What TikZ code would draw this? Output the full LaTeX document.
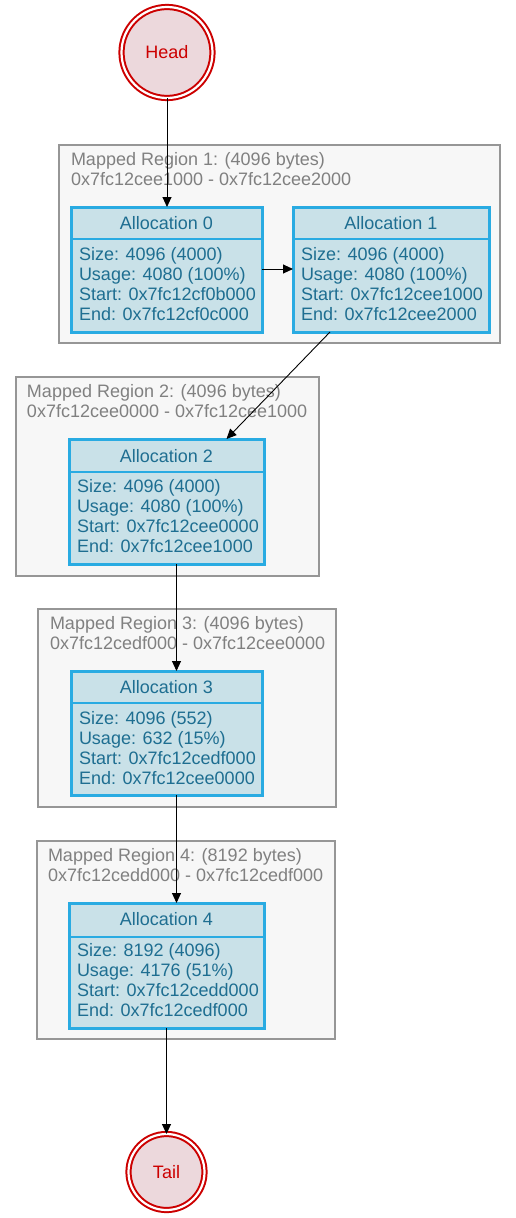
\documentclass[tikz,border=0pt]{standalone}
\usepackage{fontspec}
\setmainfont{Liberation Sans}
\usetikzlibrary{arrows.meta,calc}
\definecolor{headfill}{RGB}{236,216,220}
\definecolor{headred}{RGB}{204,0,0}
\definecolor{allocfill}{RGB}{201,225,232}
\definecolor{allocborder}{RGB}{41,171,226}
\definecolor{alloctext}{RGB}{30,110,145}
\definecolor{regionfill}{RGB}{247,247,247}
\definecolor{regionborder}{RGB}{150,150,150}
\definecolor{regiontext}{RGB}{128,128,128}
\tikzset{
  every node/.style={font=\fontsize{18}{20}\selectfont, inner sep=0pt, outer sep=0pt},
  region/.style={draw=regionborder, fill=regionfill, line width=1.2pt, rectangle},
  regionlabel/.style={text=regiontext, align=left, anchor=base west},
  allocbox/.style={draw=allocborder, fill=allocfill, line width=3pt, rectangle},
  allochead/.style={text=alloctext, anchor=base},
  allocbody/.style={text=alloctext, align=left, anchor=base west},
  divider/.style={draw=allocborder, line width=1.2pt},
  endpt/.style={circle, draw=headred, fill=headfill, line width=2pt, text=headred,
     double=white, double distance=2.2pt},
  link/.style={draw=black, line width=0.9pt, -{Triangle[length=10pt,width=9pt]}},
}
\begin{document}
\begin{tikzpicture}[x=1pt,y=-1pt]
\useasboundingbox (0,0) rectangle (516,1218);

% regions
\node[region, minimum width=441pt, minimum height=198pt, anchor=north west] (r1) at (59,145) {};
\node[regionlabel] (r1t) at ($(r1.north west)+(12,40.5)$) {Mapped Region 1: (4096 bytes)\\0x7fc12cee1000 - 0x7fc12cee2000};
\node[region, minimum width=303pt, minimum height=199pt, anchor=north west] (r2) at (16,377) {};
\node[regionlabel] (r2t) at ($(r2.north west)+(11,40.5)$) {Mapped Region 2: (4096 bytes)\\0x7fc12cee0000 - 0x7fc12cee1000};
\node[region, minimum width=298pt, minimum height=198pt, anchor=north west] (r3) at (38,609) {};
\node[regionlabel] (r3t) at ($(r3.north west)+(12,40.5)$) {Mapped Region 3: (4096 bytes)\\0x7fc12cedf000 - 0x7fc12cee0000};
\node[region, minimum width=298pt, minimum height=198pt, anchor=north west] (r4) at (37,841) {};
\node[regionlabel] (r4t) at ($(r4.north west)+(11,40.5)$) {Mapped Region 4: (8192 bytes)\\0x7fc12cedd000 - 0x7fc12cedf000};

% allocations
\node[allocbox, minimum width=191pt, minimum height=125pt, anchor=north west] (a0) at (71,207) {};
\draw[divider] ($(a0.north west)+(0,32)$) -- ($(a0.north east)+(0,32)$);
\node[allochead] (a0h) at ($(a0.north)+(0,22.5)$) {Allocation 0};
\node[allocbody] (a0b) at ($(a0.north west)+(8,113.5)$) {Size: 4096 (4000)\\Usage: 4080 (100\%)\\Start: 0x7fc12cf0b000\\End: 0x7fc12cf0c000};

\node[allocbox, minimum width=196pt, minimum height=125pt, anchor=north west] (a1) at (293,207) {};
\draw[divider] ($(a1.north west)+(0,32)$) -- ($(a1.north east)+(0,32)$);
\node[allochead] (a1h) at ($(a1.north)+(0,22.5)$) {Allocation 1};
\node[allocbody] (a1b) at ($(a1.north west)+(8,113.5)$) {Size: 4096 (4000)\\Usage: 4080 (100\%)\\Start: 0x7fc12cee1000\\End: 0x7fc12cee2000};

\node[allocbox, minimum width=195pt, minimum height=125pt, anchor=north west] (a2) at (69,439) {};
\draw[divider] ($(a2.north west)+(0,33)$) -- ($(a2.north east)+(0,33)$);
\node[allochead] (a2h) at ($(a2.north)+(0,23.5)$) {Allocation 2};
\node[allocbody] (a2b) at ($(a2.north west)+(8,113.5)$) {Size: 4096 (4000)\\Usage: 4080 (100\%)\\Start: 0x7fc12cee0000\\End: 0x7fc12cee1000};

\node[allocbox, minimum width=191pt, minimum height=124pt, anchor=north west] (a3) at (71,671) {};
\draw[divider] ($(a3.north west)+(0,32)$) -- ($(a3.north east)+(0,32)$);
\node[allochead] (a3h) at ($(a3.north)+(0,22.5)$) {Allocation 3};
\node[allocbody] (a3b) at ($(a3.north west)+(8,113.5)$) {Size: 4096 (552)\\Usage: 632 (15\%)\\Start: 0x7fc12cedf000\\End: 0x7fc12cee0000};

\node[allocbox, minimum width=195pt, minimum height=125pt, anchor=north west] (a4) at (69,903) {};
\draw[divider] ($(a4.north west)+(0,34)$) -- ($(a4.north east)+(0,34)$);
\node[allochead] (a4h) at ($(a4.north)+(0,22.5)$) {Allocation 4};
\node[allocbody] (a4b) at ($(a4.north west)+(8,113.5)$) {Size: 8192 (4096)\\Usage: 4176 (51\%)\\Start: 0x7fc12cedd000\\End: 0x7fc12cedf000};

% head / tail
\node[endpt, minimum size=91pt] (head) at (167,52.5) {Head};
\node[endpt, minimum size=76pt] (tail) at (166.5,1172) {Tail};

% links
\draw[link] (head.south) -- (head.south |- a0.north);
\draw[link] (a0.east |- 0,269) -- (a1.west |- 0,269);
\draw[link] ($(a1.south)+(-61,0)$) -- ($(a2.north)+(60,0)$);
\draw[link] ($(a2.south)+(10,0)$) -- ($(a3.north)+(10,0)$);
\draw[link] ($(a3.south)+(10,0)$) -- ($(a4.north)+(10,0)$);
\draw[link] ($(a4.south)+(0,0)$) -- (tail.north);
\end{tikzpicture}
\end{document}
